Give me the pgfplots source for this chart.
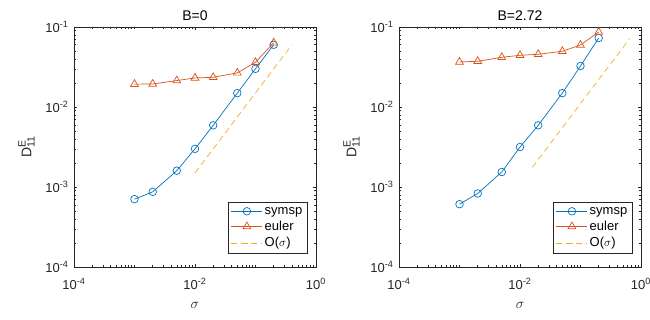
\documentclass[border=0pt]{standalone}
\usepackage{pgfplots}
\pgfplotsset{compat=1.18}
\usepackage{fontspec}
\setmainfont{Liberation Sans}
\definecolor{mblue}{rgb}{0,0.447,0.741}
\definecolor{mred}{rgb}{0.85,0.325,0.098}
\definecolor{myel}{rgb}{0.929,0.694,0.125}
\definecolor{axgray}{rgb}{0.15,0.15,0.15}
\pgfplotsset{
  every axis/.append style={
    scale only axis, width=242bp, height=240bp,
    xmin=1e-4, xmax=1, ymin=1e-4, ymax=1e-1,
    xtick={1e-4,1e-2,1},
    xticklabels={10\textsuperscript{-4},10\textsuperscript{-2},10\textsuperscript{0}},
    minor xtick={2e-4,3e-4,4e-4,5e-4,6e-4,7e-4,8e-4,9e-4,1e-3,2e-3,3e-3,4e-3,5e-3,6e-3,7e-3,8e-3,9e-3,
                 2e-2,3e-2,4e-2,5e-2,6e-2,7e-2,8e-2,9e-2,1e-1,2e-1,3e-1,4e-1,5e-1,6e-1,7e-1,8e-1,9e-1},
    ytick={1e-4,1e-3,1e-2,1e-1},
    yticklabels={10\textsuperscript{-4},10\textsuperscript{-3},10\textsuperscript{-2},10\textsuperscript{-1}},
    minor ytick={2e-4,3e-4,4e-4,5e-4,6e-4,7e-4,8e-4,9e-4,2e-3,3e-3,4e-3,5e-3,6e-3,7e-3,8e-3,9e-3,
                 2e-2,3e-2,4e-2,5e-2,6e-2,7e-2,8e-2,9e-2},
    tick align=inside, major tick length=3bp, minor tick length=1.8bp,
    axis line style={axgray, line width=0.5bp},
    tick label style={font=\fontsize{13bp}{14bp}\selectfont, text=axgray},
    xticklabel style={yshift=-8bp},
    yticklabel style={xshift=-2bp},
    title style={font=\fontsize{14bp}{16bp}\selectfont, yshift=-3bp},
    xlabel style={yshift=-6bp, text=axgray},
    ylabel style={text=axgray, yshift=4bp},
    legend style={at={(0.963,0.058)}, anchor=south east, draw=axgray, line width=0.5bp,
      font=\fontsize{13bp}{14bp}\selectfont, row sep=1.5bp, inner sep=2.5bp},
    legend cell align=left,
  },
  every tick/.style={axgray, line width=0.5bp},
  legend image code/.code={\draw[mark repeat=2,mark phase=2] plot coordinates {(0bp,0bp) (15.5bp,0bp) (31bp,0bp)};},
}
\newcommand{\ylab}{\fontsize{14bp}{16bp}\selectfont D\rlap{\raisebox{0.75ex}{\fontsize{10.5bp}{12bp}\selectfont E}}\raisebox{-0.45ex}{\fontsize{10.5bp}{12bp}\selectfont 11}}
\begin{document}
\begin{tikzpicture}
\useasboundingbox (0,0) rectangle (650bp,320bp);
\begin{loglogaxis}[at={(74bp,53bp)}, anchor=south west, title={B=0},
  xlabel={\fontsize{15bp}{16bp}\selectfont $\sigma$}, ylabel={\ylab}]
\addplot[mblue, line width=0.7bp, mark=o, mark size=3.8bp, mark options={solid}] coordinates {
(0.001,7.05e-4) (0.002,8.7e-4) (0.005,1.6e-3) (0.01,3.0e-3) (0.02,5.9e-3) (0.05,0.0149) (0.1,0.030) (0.2,0.060)};
\addlegendentry{symsp}
\addplot[mred, line width=0.7bp, mark=triangle, mark size=4.5bp, mark options={solid}] coordinates {
(0.001,0.0193) (0.002,0.0194) (0.005,0.0214) (0.01,0.0231) (0.02,0.0235) (0.05,0.0267) (0.1,0.0362) (0.2,0.0637)};
\addlegendentry{euler}
\addplot[myel, line width=0.7bp, dash pattern=on 6bp off 4bp] coordinates {(0.01,1.5e-3) (0.4,0.06)};
\addlegendentry{O($\sigma$)}
\end{loglogaxis}
\begin{loglogaxis}[at={(399bp,53bp)}, anchor=south west, title={B=2.72},
  xlabel={\fontsize{15bp}{16bp}\selectfont $\sigma$}, ylabel={\ylab}]
\addplot[mblue, line width=0.7bp, mark=o, mark size=3.8bp, mark options={solid}] coordinates {
(0.001,6.1e-4) (0.002,8.3e-4) (0.005,1.54e-3) (0.01,3.16e-3) (0.02,5.9e-3) (0.05,0.0149) (0.1,0.0326) (0.2,0.0728)};
\addlegendentry{symsp}
\addplot[mred, line width=0.7bp, mark=triangle, mark size=4.5bp, mark options={solid}] coordinates {
(0.001,0.0366) (0.002,0.0373) (0.005,0.0418) (0.01,0.0443) (0.02,0.0456) (0.05,0.0497) (0.1,0.0596) (0.2,0.0866)};
\addlegendentry{euler}
\addplot[myel, line width=0.7bp, dash pattern=on 6bp off 4bp] coordinates {(0.016,1.76e-3) (0.65,0.0715)};
\addlegendentry{O($\sigma$)}
\end{loglogaxis}
\end{tikzpicture}
\end{document}
